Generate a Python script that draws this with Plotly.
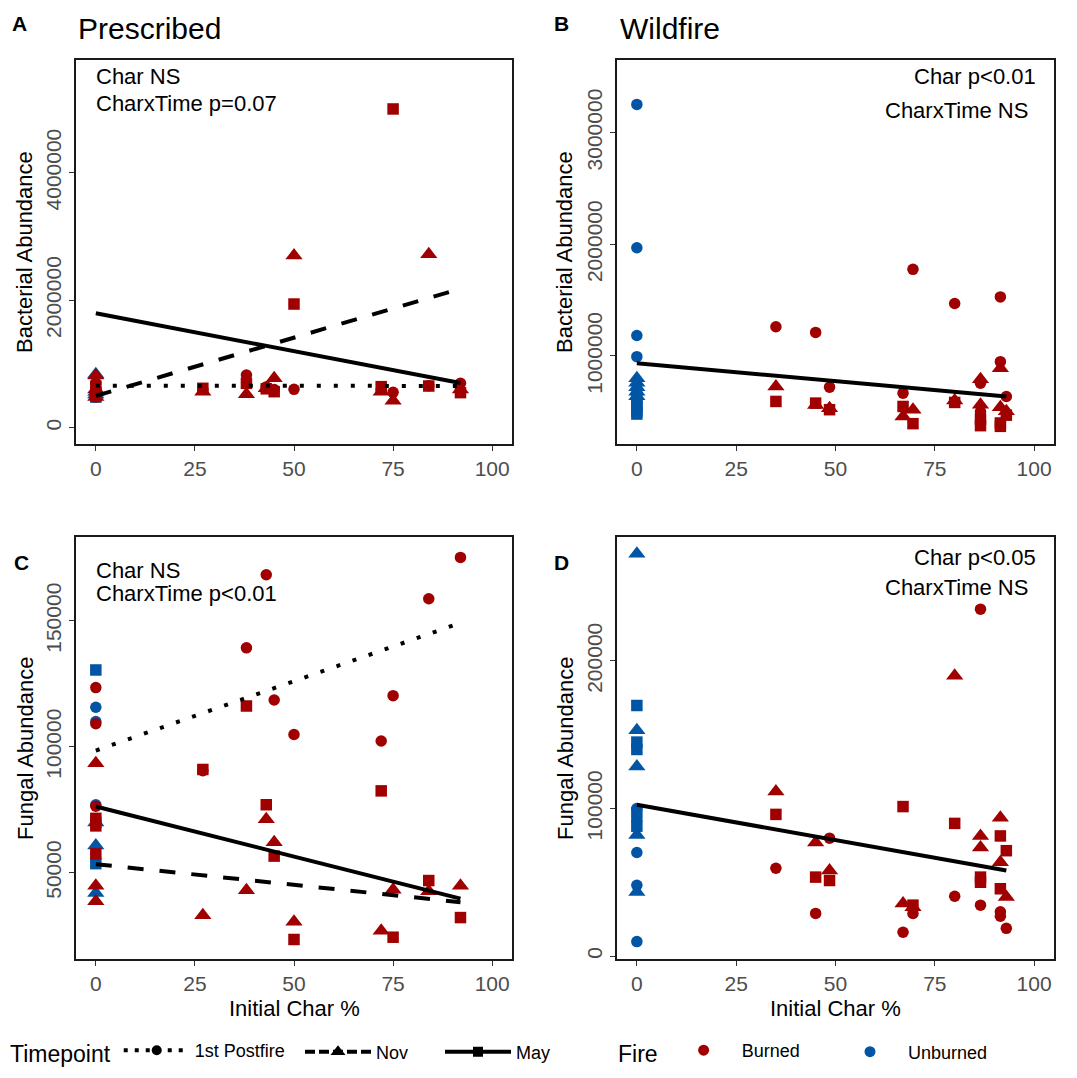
import plotly.graph_objects as go

W, H = 1077, 1078


def px(x):
    return x / W


def py(y):
    return 1 - y / H


RED = "#A00000"
BLUE = "#0055A4"
FONT = "Liberation Sans, Arial, sans-serif"

# ---------------- data ----------------
TIMEPOINTS = ["1st Postfire", "Nov", "May"]
FIRE = ["Burned", "Unburned"]
X_TICKS = [0, 25, 50, 75, 100]

# Prescribed burn sites (initial char %)
PRESC_X = [0, 0, 0, 27, 38, 43, 45, 50, 72, 75, 84, 92]
PRESC_UNB_X = [0, 0, 0]

# Bacterial abundance, prescribed (panel A)
PRESC_BACT_1ST = [480000, 560000, 700000, 600000, 827000, 640000, 600000, 602000, 600000, 555000, 660000, 696000]
PRESC_BACT_NOV = [820000, 600000, 480000, 565000, 524000, 620000, 775000, 2700000, 565000, 424000, 2720000, 600000]
PRESC_BACT_MAY = [650000, 560000, 500000, 618000, 696000, 610000, 565000, 1940000, 644000, 5000000, 654000, 550000]
PRESC_UNB_BACT_1ST = [520000, 500000, 540000]
PRESC_UNB_BACT_NOV = [840000, 560000, 520000]
PRESC_UNB_BACT_MAY = [540000, 500000, 480000]

# Fungal abundance, prescribed (panel C)
PRESC_FUNG_1ST = [123500, 109200, 76400, 90500, 139300, 168300, 118600, 104900, 102300, 120300, 158800, 175200]
PRESC_FUNG_NOV = [93500, 44800, 38700, 33100, 43000, 71200, 62100, 30500, 27000, 43200, 42600, 44800]
PRESC_FUNG_MAY = [71600, 68600, 57500, 91000, 116200, 77000, 56600, 23500, 82500, 24400, 46900, 32200]
PRESC_UNB_FUNG_1ST = [115700, 110000, 77000]
PRESC_UNB_FUNG_NOV = [69900, 60800, 42000]
PRESC_UNB_FUNG_MAY = [130500, 53600, 70000]

# Wildfire sites (initial char %)
WILD_X = [35, 45, 48.5, 67, 69.5, 80, 86.5, 86.5, 91.5, 91.5, 93]
WILD_UNB_X = [0, 0, 0, 0, 0]

# Bacterial abundance, wildfire (panel B)
WILD_BACT_1ST = [1262000, 1211000, 721000, 667000, 1776000, 1470000, 756000, 500000, 1529000, 949000, 637000]
WILD_BACT_NOV = [727000, 560000, 533000, 459000, 519000, 602000, 792000, 563000, 890000, 540000, 504000]
WILD_BACT_MAY = [593000, 578000, 519000, 548000, 394000, 584000, 435000, 376000, 370000, 400000, 470000]
WILD_UNB_BACT_1ST = [3253000, 1969000, 1184000, 994000, 700000]
WILD_UNB_BACT_NOV = [801000, 760000, 720000, 680000, 640000]
WILD_UNB_BACT_MAY = [620000, 580000, 540000, 505000, 480000]

# Fungal abundance, wildfire (panel D)
WILD_FUNG_1ST = [59500, 28900, 79900, 16100, 28900, 40500, 235100, 34500, 30000, 27000, 18800]
WILD_FUNG_NOV = [111600, 77000, 57900, 35600, 33000, 189900, 81400, 73600, 93700, 63500, 40000]
WILD_FUNG_MAY = [96000, 53500, 51200, 101300, 34500, 89900, 53500, 50000, 81400, 45600, 71400]
WILD_UNB_FUNG_1ST = [100000, 70200, 47900, 9800, 92000]
WILD_UNB_FUNG_NOV = [272700, 153000, 128400, 82100, 43400]
WILD_UNB_FUNG_MAY = [169800, 145000, 140000, 97000, 88000]

# Fitted model lines (values at the ends of the char range)
FIT_X_PRESC = [0, 92]
FIT_X_WILD = [0, 93]
FIT_A_1ST = [660000, 655000]
FIT_A_NOV = [500000, 2180000]
FIT_A_MAY = [1795000, 700000]
FIT_B = [935000, 637000]
FIT_C_1ST = [98500, 149200]
FIT_C_NOV = [53400, 38300]
FIT_C_MAY = [76300, 39700]
FIT_D = [102500, 58000]

# ---------------- styles ----------------
SYMBOLS = {"1st Postfire": "circle", "Nov": "triangle-up", "May": "square"}
MSIZE = {"circle": 11.5, "triangle-up": 15, "square": 11.5}
DASHES = {"1st Postfire": "4px,13px", "Nov": "16px,16px", "May": "solid"}
LINE_W = 4

fig = go.Figure()

panels = [
    dict(xa="x", ya="y", bx=PRESC_X, ux=PRESC_UNB_X,
         burned=[PRESC_BACT_1ST, PRESC_BACT_NOV, PRESC_BACT_MAY],
         unb=[PRESC_UNB_BACT_1ST, PRESC_UNB_BACT_NOV, PRESC_UNB_BACT_MAY],
         fitx=FIT_X_PRESC, fits=[("1st Postfire", FIT_A_1ST), ("Nov", FIT_A_NOV), ("May", FIT_A_MAY)]),
    dict(xa="x2", ya="y2", bx=WILD_X, ux=WILD_UNB_X,
         burned=[WILD_BACT_1ST, WILD_BACT_NOV, WILD_BACT_MAY],
         unb=[WILD_UNB_BACT_1ST, WILD_UNB_BACT_NOV, WILD_UNB_BACT_MAY],
         fitx=FIT_X_WILD, fits=[("May", FIT_B)]),
    dict(xa="x3", ya="y3", bx=PRESC_X, ux=PRESC_UNB_X,
         burned=[PRESC_FUNG_1ST, PRESC_FUNG_NOV, PRESC_FUNG_MAY],
         unb=[PRESC_UNB_FUNG_1ST, PRESC_UNB_FUNG_NOV, PRESC_UNB_FUNG_MAY],
         fitx=FIT_X_PRESC, fits=[("1st Postfire", FIT_C_1ST), ("Nov", FIT_C_NOV), ("May", FIT_C_MAY)]),
    dict(xa="x4", ya="y4", bx=WILD_X, ux=WILD_UNB_X,
         burned=[WILD_FUNG_1ST, WILD_FUNG_NOV, WILD_FUNG_MAY],
         unb=[WILD_UNB_FUNG_1ST, WILD_UNB_FUNG_NOV, WILD_UNB_FUNG_MAY],
         fitx=FIT_X_WILD, fits=[("May", FIT_D)]),
]

for p in panels:
    for i, tp in enumerate(TIMEPOINTS):
        sym = SYMBOLS[tp]
        fig.add_trace(go.Scatter(
            x=p["ux"], y=p["unb"][i], mode="markers", xaxis=p["xa"], yaxis=p["ya"],
            marker=dict(symbol=sym, size=MSIZE[sym], color=BLUE, line=dict(width=0)),
            showlegend=False, hoverinfo="skip"))
    for i, tp in enumerate(TIMEPOINTS):
        sym = SYMBOLS[tp]
        fig.add_trace(go.Scatter(
            x=p["bx"], y=p["burned"][i], mode="markers", xaxis=p["xa"], yaxis=p["ya"],
            marker=dict(symbol=sym, size=MSIZE[sym], color=RED, line=dict(width=0)),
            showlegend=False, hoverinfo="skip"))
    for tp, fy in p["fits"]:
        fig.add_trace(go.Scatter(
            x=p["fitx"], y=fy, mode="lines", xaxis=p["xa"], yaxis=p["ya"],
            line=dict(color="black", width=LINE_W, dash=DASHES[tp]),
            showlegend=False, hoverinfo="skip"))

# legend entries
LEG_DASH = {"1st Postfire": "4px,7px", "Nov": "10px,4px", "May": "solid"}
legend_names = ["legend", "legend2", "legend3"]
for tp, lg in zip(TIMEPOINTS, legend_names):
    sym = SYMBOLS[tp]
    fig.add_trace(go.Scatter(
        x=[None], y=[None], mode="lines+markers", name=tp, legend=lg,
        line=dict(color="black", width=4, dash=LEG_DASH[tp]),
        marker=dict(symbol=sym, size=10 if sym != "triangle-up" else 13, color="black")))
for f, col, lg in zip(FIRE, [RED, BLUE], ["legend4", "legend5"]):
    fig.add_trace(go.Scatter(
        x=[None], y=[None], mode="markers", name=f, legend=lg,
        marker=dict(symbol="circle", size=11, color=col)))

# ---------------- axes ----------------
AX_COMMON = dict(showline=True, mirror=True, linecolor="#1a1a1a", linewidth=1.6,
                 ticks="outside", ticklen=5, tickwidth=1.4, tickcolor="#333333",
                 showgrid=False, zeroline=False,
                 tickfont=dict(family=FONT, size=21, color="#4d4d4d"))

DOM_X_L = [px(76), px(512)]
DOM_X_R = [px(617), px(1054)]
DOM_Y_T = [py(444), py(60)]
DOM_Y_B = [py(959), py(537)]


def xax(domain, anchor):
    d = dict(AX_COMMON)
    d.update(domain=domain, anchor=anchor, range=[-5, 105], tickvals=X_TICKS,
             ticktext=[str(t) for t in X_TICKS])
    return d


def yax(domain, anchor, rng, vals):
    d = dict(AX_COMMON)
    d.update(domain=domain, anchor=anchor, range=rng, tickvals=vals,
             ticktext=[str(v) for v in vals], tickangle=-90)
    return d


fig.update_layout(
    width=W, height=H, margin=dict(l=0, r=0, t=0, b=0),
    paper_bgcolor="white", plot_bgcolor="white",
    font=dict(family=FONT, color="black"),
    xaxis=xax(DOM_X_L, "y"),
    yaxis=yax(DOM_Y_T, "x", [-255700, 5768000], [0, 2000000, 4000000]),
    xaxis2=xax(DOM_X_R, "y2"),
    yaxis2=yax(DOM_Y_T, "x2", [211800, 3651000], [1000000, 2000000, 3000000]),
    xaxis3=xax(DOM_X_L, "y3"),
    yaxis3=yax(DOM_Y_B, "x3", [15750, 183300], [50000, 100000, 150000]),
    xaxis4=xax(DOM_X_R, "y4"),
    yaxis4=yax(DOM_Y_B, "x4", [-2000, 284000], [0, 100000, 200000]),
    showlegend=True,
)

LEG_COMMON = dict(orientation="h", yanchor="middle", y=py(1052), xanchor="left",
                  bgcolor="rgba(0,0,0,0)", font=dict(family=FONT, size=18, color="black"),
                  itemwidth=66, tracegroupgap=0)
fig.update_layout(
    legend=dict(LEG_COMMON, x=px(8), title=dict(text="Timepoint", side="left",
                                                font=dict(family=FONT, size=23))),
    legend2=dict(LEG_COMMON, x=px(300)),
    legend3=dict(LEG_COMMON, x=px(440)),
    legend4=dict(LEG_COMMON, x=px(616), title=dict(text="Fire", side="left",
                                                   font=dict(family=FONT, size=23))),
    legend5=dict(LEG_COMMON, x=px(832)),
)

# ---------------- annotations ----------------
ann = []


def txt(text, x, y, size, xanchor="left", bold=False, angle=0):
    t = f"<b>{text}</b>" if bold else text
    ann.append(dict(text=t, x=px(x), y=py(y), xref="paper", yref="paper",
                    xanchor=xanchor, yanchor="middle", showarrow=False, textangle=angle,
                    font=dict(family=FONT, size=size, color="black")))


txt("A", 20, 24, 21, xanchor="center", bold=True)
txt("B", 561, 24, 21, xanchor="center", bold=True)
txt("C", 21, 562, 21, xanchor="center", bold=True)
txt("D", 561, 562, 21, xanchor="center", bold=True)
txt("Prescribed", 76, 29, 30)
txt("Wildfire", 618, 29, 30)

txt("Char NS", 94, 77, 22)
txt("CharxTime p=0.07", 94, 103, 22)
txt("Char p<0.01", 1038, 77, 22, xanchor="right")
txt("CharxTime NS", 1030, 111, 22, xanchor="right")
txt("Char NS", 94, 570, 22)
txt("CharxTime p<0.01", 94, 594, 22)
txt("Char p<0.05", 1038, 557, 22, xanchor="right")
txt("CharxTime NS", 1030, 587, 22, xanchor="right")

txt("Bacterial Abundance", 25, 252, 22, xanchor="center", angle=-90)
txt("Bacterial Abundance", 565, 252, 22, xanchor="center", angle=-90)
txt("Fungal Abundance", 25, 748, 22, xanchor="center", angle=-90)
txt("Fungal Abundance", 565, 748, 22, xanchor="center", angle=-90)
txt("Initial Char %", 294, 1008, 22, xanchor="center")
txt("Initial Char %", 835, 1008, 22, xanchor="center")

fig.update_layout(annotations=ann)

fig.write_html("out.html")
